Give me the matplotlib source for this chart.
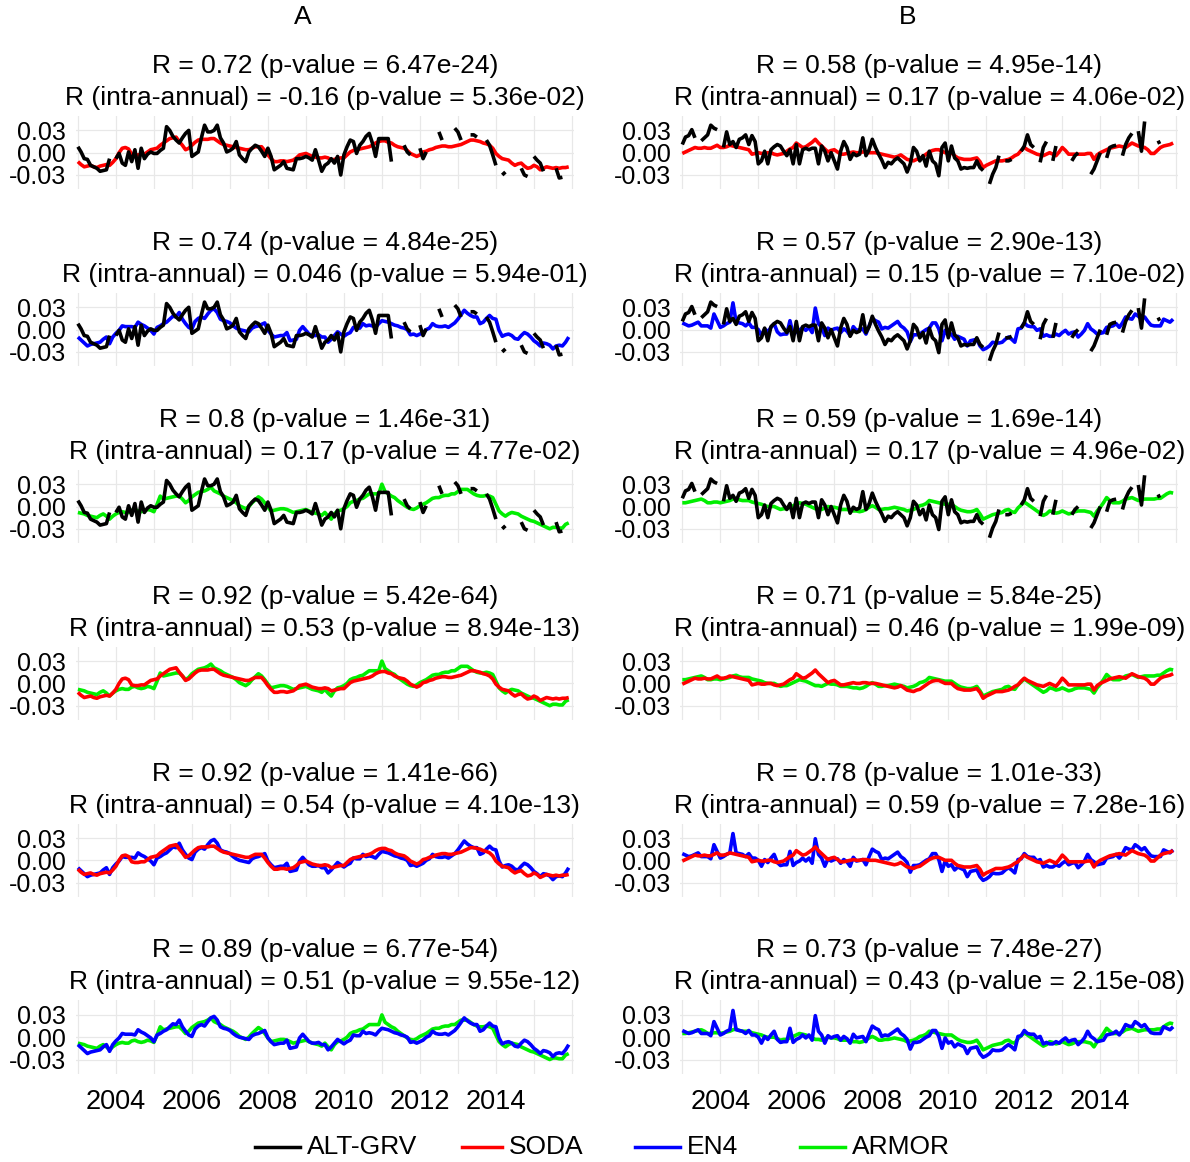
import numpy as np
import matplotlib.pyplot as plt
from matplotlib.lines import Line2D

nan = float('nan')

# monthly values Jan 2003 - Dec 2015, in units of 1e-3
months = np.arange(156)
years = 2003 + months / 12.0

alt_a = [8, 1, -8, -9, -17, -19, -21, -25, -24, -23, -8, nan,
         -8, -1, -14, -17, 1, -12, 4, -21, 6, -8, -2, 1,
         -1, -1, 3, 6, 35, 30, 22, 17, 13, 20, 26, 30,
         -5, -2, 1, 20, 37, 28, 28, 30, 37, 20, 13, 1,
         3, 6, 15, -3, -8, -12, 1, 6, 10, 8, 2, -5,
         6, -5, -23, -20, -17, -12, -21, -22, -23, -8, -8, -7,
         -5, -7, -10, 4, -10, -25, -17, -14, -8, -14, -5, -30,
         -3, 8, 17, 15, -1, 10, 15, 22, 26, 13, -5, 19,
         19, 19, 19, -12, nan, nan, nan, 10, 1, -3, nan, nan,
         6, -8, 1, nan, nan, nan, 28, 17, nan, nan, nan, 33,
         28, 17, nan, nan, 24, 24, 21, nan, nan, 17, 10, -3,
         -17, nan, -30, -26, nan, nan, nan, nan, -21, -30, -32, nan,
         -5, -10, -14, -25, nan, nan, nan, -21, -34, -33, nan, nan]

soda_a = [-12, -16, -19, -18, -17, -19, -20, -18, -17, -16, -17, -13,
          -8, 0, 6, 7, 5, -2, -3, -3, -2, -2, 1, 4,
          5, 6, 10, 13, 16, 19, 20, 21, 15, 10, 4, 6,
          10, 14, 17, 18, 18, 18, 19, 19, 16, 13, 11, 10,
          9, 8, 7, 6, 5, 4, 4, 6, 8, 8, 8, 3,
          -3, -8, -12, -12, -11, -11, -12, -11, -10, -7, -3, -2,
          -1, -3, -5, -6, -7, -7, -6, -7, -10, -9, -8, -7,
          -7, -3, 1, 3, 4, 5, 6, 7, 8, 10, 13, 15,
          16, 16, 14, 13, 10, 8, 7, 6, 3, -1, -3, -5,
          -3, 1, 2, 4, 5, 7, 8, 9, 9, 8, 8, 9,
          10, 11, 13, 15, 17, 17, 16, 15, 13, 12, 10, 6,
          -1, -5, -8, -9, -10, -14, -17, -15, -14, -18, -21, -20,
          -17, -19, -23, -21, -19, -20, -21, -20, -21, -20, -20, -19]

en4_a = [-10, -14, -18, -22, -20, -19, -18, -17, -13, -10, -19, -10,
         -5, -1, 5, 4, 4, 4, 3, 10, 7, 5, 2, -1,
         -6, 3, 5, 8, 10, 14, 18, 17, 23, 14, 8, 3,
         1, 11, 15, 17, 15, 21, 26, 28, 23, 14, 12, 11,
         9, 5, 2, 0, -1, -2, -3, 2, 4, 5, 7, 9,
         -1, -6, -10, -9, -8, -8, -4, -15, -14, -13, -1, 4,
         -1, -6, -8, -8, -7, -10, -10, -17, -13, -8, -3, -6,
         -9, -6, -4, 3, 2, 2, 8, 5, 6, 5, 3, 8,
         12, 11, 10, 8, 6, 5, 3, 2, 0, -7, -6, -8,
         -6, -4, 0, 2, 8, 5, 4, 4, 5, 3, 6, 9,
         14, 20, 26, 22, 19, 17, 17, 8, 10, 15, 19, 15,
         14, -1, -9, -7, -6, -8, -12, -13, -8, -4, -6, -10,
         -15, -18, -22, -18, -19, -21, -26, -22, -21, -22, -17, -10]

armor_a = [-8, -9, -10, -12, -13, -14, -15, -12, -10, -13, -17, -13,
           -10, -8, -7, -8, -8, -5, -4, -6, -7, -6, -4, -5,
           -7, 3, 14, 10, 11, 12, 13, 14, 14, 10, 5, 8,
           13, 16, 19, 20, 21, 23, 26, 21, 19, 17, 14, 12,
           10, 8, 5, 1, -1, -3, 0, 5, 9, 13, 10, 5,
           -1, -6, -5, -4, -3, -3, -4, -6, -8, -7, -6, -5,
           -4, -6, -8, -9, -10, -12, -8, -13, -17, -10, -6, -5,
           -3, 0, 5, 7, 8, 10, 11, 14, 17, 17, 17, 17,
           30, 20, 17, 14, 12, 8, 5, 2, -1, -3, -4, -2,
           1, 3, 5, 8, 11, 12, 12, 14, 15, 15, 17, 17,
           20, 23, 23, 23, 20, 17, 15, 14, 14, 15, 14, 12,
           3, -6, -10, -13, -10, -8, -9, -10, -13, -15, -17, -19,
           -20, -22, -24, -26, -28, -30, -28, -28, -29, -29, -24, -22]

alt_b = [11, 21, 23, 31, 20, nan, 16, 20, 24, 37, 33, 31,
         nan, 7, 28, 11, 15, 7, 18, 20, 24, 11, 23, 15,
         -15, -11, 2, -15, 4, 8, 11, 9, 2, -4, 4, -15,
         11, -15, 4, 6, 4, 6, 6, -15, 9, 2, -11, 0,
         -11, -22, 2, 15, 7, -9, -1, -4, -2, 20, -4, 4,
         18, 7, -2, -10, -20, -13, -15, -10, -7, -11, -15, -26,
         -15, 7, 2, -11, -4, -18, 2, -11, -15, -31, 7, 13,
         -11, 9, -7, -11, -22, -20, -21, -20, -20, -11, -20, -24,
         nan, -42, -29, -20, -4, nan, -11, -11, -9, nan, nan, 2,
         9, 24, 11, 7, nan, -13, 7, 15, nan, -11, 9, nan,
         nan, nan, nan, -11, -4, 0, nan, nan, nan, -29, -22, -11,
         0, nan, -7, 7, 9, 10, nan, -4, 11, 20, 26, nan,
         29, 2, 42, nan, nan, nan, 13, 15, nan, nan, nan, nan]

soda_b = [-1, 1, 3, 5, 7, 6, 6, 7, 6, 6, 8, 10,
          7, 7, 8, 10, 9, 8, 7, 6, 5, 4, -2, -1,
          0, -1, -1, 0, 0, -2, -3, -2, -1, 2, 5, 7,
          13, 10, 7, 8, 11, 14, 18, 13, 9, 5, 1, 3,
          4, 1, -2, -2, -1, 0, 1, 0, 0, 1, 1, 0,
          0, 0, -1, -2, -3, -4, -5, -6, -5, -3, -6, -9,
          -10, -11, -9, -8, -5, -2, 1, 3, 4, 4, 2, 0,
          0, 0, -4, -7, -8, -9, -9, -9, -8, -7, -12, -20,
          -17, -15, -13, -11, -11, -11, -10, -9, -7, -4, -2, 3,
          7, 4, 2, 0, -2, -3, -4, -2, 0, -2, -4, 1,
          7, 3, -2, -2, -2, -2, -2, -2, -1, -1, -9, -3,
          0, 2, 4, 6, 7, 8, 9, 8, 7, 10, 13, 11,
          9, 8, 7, 4, -1, -1, 3, 7, 9, 10, 11, 13]

en4_b = [9, 7, 5, 6, 8, 10, 5, 5, 5, 2, 21, 12,
         3, 5, 8, 10, 36, 10, 9, 8, 5, 9, 3, 3,
         0, -8, 1, -3, 3, 8, -3, -7, -6, -6, 12, -7,
         -3, -1, 3, -1, 3, -4, 29, 8, 3, -8, 2, -1,
         1, 2, -4, 1, -2, -8, 4, -1, 0, 1, -6, 5,
         15, 12, 10, 1, 3, 2, 5, 8, 11, 5, 2, -3,
         -16, -7, -7, -6, -3, 0, 2, 9, 9, 1, -15, -1,
         -8, -6, -13, -9, -11, -13, -22, -15, -14, -13, -22, -27,
         -25, -22, -17, -18, -18, -17, -13, -10, -13, -17, 1, 2,
         9, 5, 4, 4, -1, 1, -9, -7, -9, -9, -6, -8,
         -4, -1, -6, -4, -3, -10, -6, -1, 8, 1, -2, -6,
         -5, -4, 3, 4, 5, 8, 3, 9, 17, 15, 14, 21,
         18, 14, 17, 11, 6, 5, 5, 5, 14, 12, 10, 14]

armor_b = [5, 5, 6, 7, 8, 9, 10, 8, 5, 5, 6, 6,
           5, 6, 7, 8, 10, 11, 9, 8, 8, 8, 6, 5,
           4, 3, 1, 0, 0, 0, -2, -4, -3, -3, -1, 1,
           3, 5, 4, 3, 1, -1, -3, -3, -4, -2, 0, -1,
           -1, -2, -4, -4, -4, -5, -6, -6, -7, -6, -4, -1,
           1, -1, -4, -4, -3, -3, -2, -1, -2, -3, -4, -6,
           -5, -4, -2, 1, 2, 4, 8, 7, 6, 5, 4, 3,
           3, 3, 0, -3, -5, -6, -7, -7, -6, -4, -10, -17,
           -15, -13, -11, -10, -9, -8, -5, -4, -7, -8, -2, 2,
           6, 3, 0, -3, -6, -9, -12, -10, -6, -7, -9, -8,
           -6, -8, -10, -9, -7, -6, -6, -6, -7, -8, -13, -6,
           -1, 5, 12, 8, 5, 5, 5, 7, 10, 11, 12, 10,
           8, 9, 10, 10, 10, 10, 11, 11, 14, 17, 19, 18]

col_a = {'alt': alt_a, 'soda': soda_a, 'en4': en4_a, 'armor': armor_a}
col_b = {'alt': alt_b, 'soda': soda_b, 'en4': en4_b, 'armor': armor_b}

colors = {'alt': 'black', 'soda': '#ff0000', 'en4': '#0000ff', 'armor': '#00ee00'}
# (bottom series, top series) for each row
pairs = [('soda', 'alt'), ('en4', 'alt'), ('armor', 'alt'),
         ('armor', 'soda'), ('en4', 'soda'), ('armor', 'en4')]

titles_a = [('R = 0.72 (p-value = 6.47e-24)', 'R (intra-annual) = -0.16 (p-value = 5.36e-02)'),
            ('R = 0.74 (p-value = 4.84e-25)', 'R (intra-annual) = 0.046 (p-value = 5.94e-01)'),
            ('R = 0.8 (p-value = 1.46e-31)', 'R (intra-annual) = 0.17 (p-value = 4.77e-02)'),
            ('R = 0.92 (p-value = 5.42e-64)', 'R (intra-annual) = 0.53 (p-value = 8.94e-13)'),
            ('R = 0.92 (p-value = 1.41e-66)', 'R (intra-annual) = 0.54 (p-value = 4.10e-13)'),
            ('R = 0.89 (p-value = 6.77e-54)', 'R (intra-annual) = 0.51 (p-value = 9.55e-12)')]
titles_b = [('R = 0.58 (p-value = 4.95e-14)', 'R (intra-annual) = 0.17 (p-value = 4.06e-02)'),
            ('R = 0.57 (p-value = 2.90e-13)', 'R (intra-annual) = 0.15 (p-value = 7.10e-02)'),
            ('R = 0.59 (p-value = 1.69e-14)', 'R (intra-annual) = 0.17 (p-value = 4.96e-02)'),
            ('R = 0.71 (p-value = 5.84e-25)', 'R (intra-annual) = 0.46 (p-value = 1.99e-09)'),
            ('R = 0.78 (p-value = 1.01e-33)', 'R (intra-annual) = 0.59 (p-value = 7.28e-16)'),
            ('R = 0.73 (p-value = 7.48e-27)', 'R (intra-annual) = 0.43 (p-value = 2.15e-08)')]

legend_names = ['ALT-GRV', 'SODA', 'EN4', 'ARMOR']
legend_keys = ['alt', 'soda', 'en4', 'armor']

plt.rcParams['font.family'] = ['Liberation Sans', 'DejaVu Sans']

W, H = 1190, 1162
fig = plt.figure(figsize=(W / 100, H / 100), dpi=100)

ylo, yhi = -0.0495, 0.0495
px_per_unit = 22.3 / 0.03
ax_h = (yhi - ylo) * px_per_unit
ax_w = 497.8
x_left = [76.0, 680.4]
y_zero = [152.7 + 176.9 * i for i in range(6)]
grid_col = '#e8e8e8'

for c, (data, titles) in enumerate([(col_a, titles_a), (col_b, titles_b)]):
    for r in range(6):
        top = y_zero[r] - yhi * px_per_unit
        ax = fig.add_axes([x_left[c] / W, 1 - (top + ax_h) / H, ax_w / W, ax_h / H])
        for key in pairs[r]:
            vals = np.array(data[key], dtype=float) / 1000.0
            ax.plot(years, vals, color=colors[key], lw=2.6, solid_capstyle='butt')
        ax.set_xlim(2002.95, 2016.05)
        ax.set_ylim(ylo, yhi)
        ax.set_xticks(range(2004, 2015, 2))
        ax.set_xticks([2003, 2005, 2007, 2009, 2011, 2013, 2015, 2016], minor=True)
        ax.set_yticks([-0.03, 0.0, 0.03])
        ax.set_yticklabels(['-0.03', '0.00', '0.03'])
        ax.grid(which='both', axis='x', color=grid_col, lw=0.9)
        ax.grid(which='major', axis='y', color=grid_col, lw=0.9)
        ax.set_axisbelow(True)
        ax.tick_params(which='both', length=0)
        ax.tick_params(axis='y', labelsize=18, pad=7)
        ax.tick_params(axis='x', labelsize=19.5, pad=11)
        if r < 5:
            ax.set_xticklabels([])
        for s in ax.spines.values():
            s.set_visible(False)
        cx = (x_left[c] + ax_w / 2) / W
        fig.text(cx, 1 - (y_zero[r] - 86.7) / H, titles[r][0], ha='center', va='center', fontsize=19)
        fig.text(cx, 1 - (y_zero[r] - 54.7) / H, titles[r][1], ha='center', va='center', fontsize=19)

fig.text(303 / W, 1 - 17 / H, 'A', ha='center', va='center', fontsize=19)
fig.text(908 / W, 1 - 17 / H, 'B', ha='center', va='center', fontsize=19)

# legend along the bottom
leg_y = 1 - 1147 / H
key_x = [(255, 300), (462, 502), (635, 680), (800, 845)]
for (x1, x2), key, name in zip(key_x, legend_keys, legend_names):
    fig.add_artist(Line2D([x1 / W, x2 / W], [leg_y, leg_y], transform=fig.transFigure,
                          color=colors[key], lw=2.5))
    fig.text((x2 + 7) / W, leg_y, name, ha='left', va='center', fontsize=19)

fig.savefig('out.png', dpi=100)
